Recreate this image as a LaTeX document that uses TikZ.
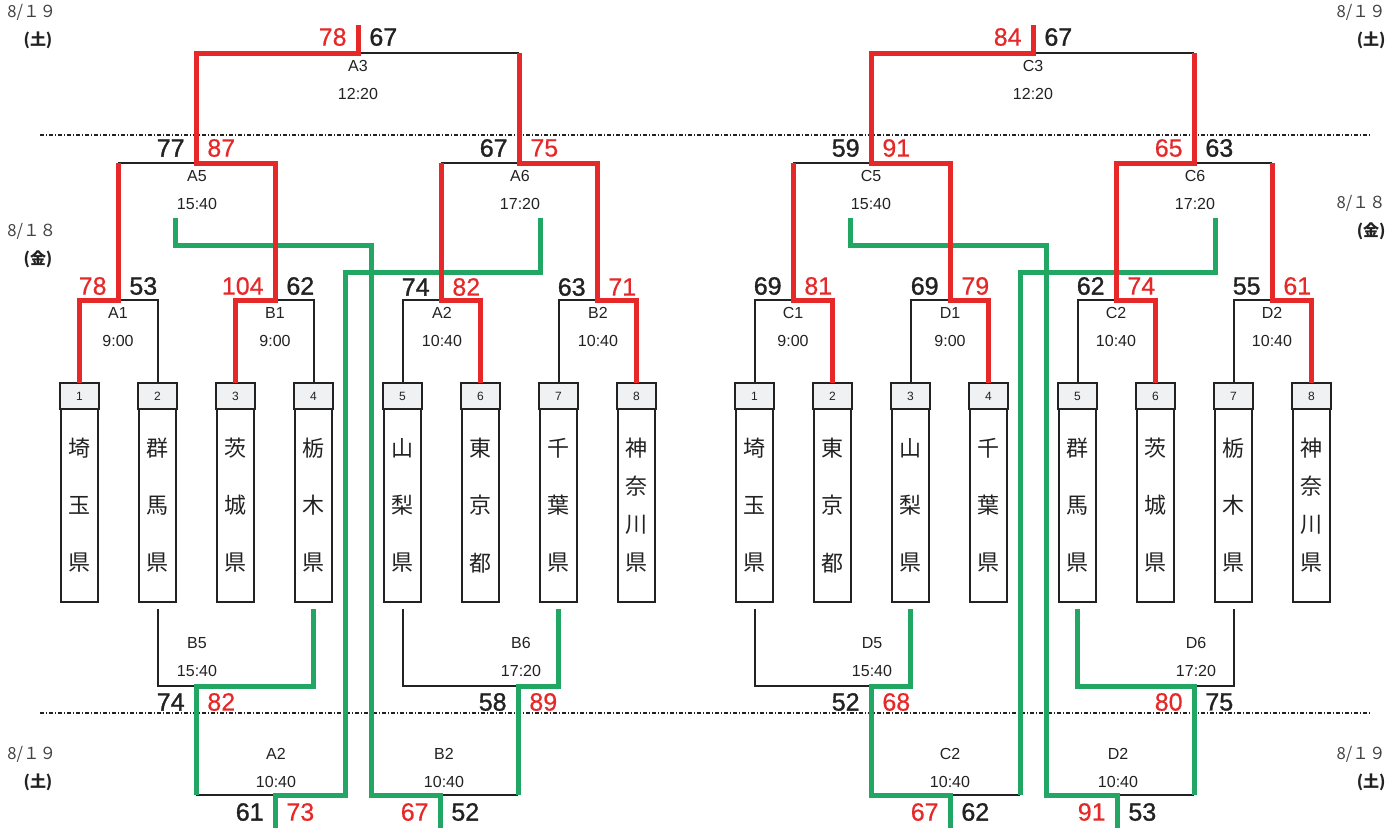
\documentclass[tikz,border=0pt]{standalone}
\usepackage{fontspec}
\setmainfont{Liberation Sans}
\newfontfamily\jp{Noto Sans CJK JP}
\newfontfamily\numB[FakeBold=1.2]{Liberation Sans}
\newfontfamily\numR[FakeBold=0.4]{Liberation Sans}
\definecolor{cRed}{HTML}{E62828}
\definecolor{cGrn}{HTML}{21A664}
\definecolor{cBlk}{HTML}{222222}
\definecolor{cCell}{HTML}{F0F1F3}
\definecolor{cGray}{HTML}{444444}
\newcommand\teamA[6]{%
  \node[tbox] (#1) at (#2,493) {};
  \draw[cellst] (#1.north west) rectangle ([yshift=-13pt]#1.north east);
  \node[numst] (#1n) at (#2,396) {#3};
  \node[kj] (#1a) at (#2,448) {#4};
  \node[kj] (#1b) at (#2,505.5) {#5};
  \node[kj] (#1c) at (#2,563) {#6};}
\newcommand\teamB[7]{%
  \node[tbox] (#1) at (#2,493) {};
  \draw[cellst] (#1.north west) rectangle ([yshift=-13pt]#1.north east);
  \node[numst] (#1n) at (#2,396) {#3};
  \node[kj] (#1a) at (#2,448) {#4};
  \node[kj] (#1b) at (#2,486.3) {#5};
  \node[kj] (#1c) at (#2,524.7) {#6};
  \node[kj] (#1d) at (#2,563) {#7};}
\newcommand\scores[7]{%
  \node[#4,anchor=east] (#1l) at (#2-11,#3) {#5};
  \node[#6,anchor=west] (#1r) at (#2+11,#3) {#7};}
\newcommand\mlab[5]{%
  \node[ml] (#1) at (#2,#3) {#4};
  \node[ml] (#1t) at (#2,#3+28) {#5};}
\begin{document}
\begin{tikzpicture}[x=0.5pt,y=-0.5pt,
  tbox/.style={draw=cBlk, line width=1pt, fill=white, rectangle, inner sep=0pt,
    minimum width=18.5pt, minimum height=109pt},
  cellst/.style={draw=cBlk, line width=1pt, fill=cCell},
  numst/.style={inner sep=0pt, font=\fontsize{6}{7}\selectfont, text=cBlk},
  kj/.style={inner sep=0pt, font=\jp\fontsize{11}{12}\selectfont, text=cBlk},
  thin/.style={draw=cBlk, line width=1pt},
  win/.style={draw=cRed, line width=2.5pt},
  cons/.style={draw=cGrn, line width=2.5pt},
  sr/.style={inner sep=0pt, font=\numR\fontsize{12.5}{14}\selectfont, text=cRed},
  sb/.style={inner sep=0pt, font=\numB\fontsize{12.5}{14}\selectfont, text=cBlk},
  ml/.style={inner sep=0pt, font=\fontsize{8}{9}\selectfont, text=cBlk},
  dt/.style={inner sep=0pt, font=\jp\fontsize{8.3}{9}\selectfont, text=cGray},
  dd/.style={inner sep=0pt, font=\jp\bfseries\fontsize{8}{9}\selectfont, text=cBlk},
  sep/.style={draw=cBlk, line width=0.7pt, dash pattern=on 2pt off 1pt on 0.5pt off 1pt}
]
\useasboundingbox[fill=white] (0,0) rectangle (1399,827);

% ---------- coordinates ----------
\coordinate (bot) at (0,829);
\coordinate (A3) at (358,53); \coordinate (A3top) at (358,25);
\coordinate (A5) at (196,163); \coordinate (A6) at (519,163);
\coordinate (A1) at (118,300); \coordinate (B1) at (275,300);
\coordinate (A2) at (441,300); \coordinate (B2) at (597,300);
\coordinate (B5) at (196,686); \coordinate (B6) at (518,686);
\coordinate (A2b) at (275,795); \coordinate (B2b) at (440,795);
\coordinate (g1a) at (175,218); \coordinate (g1b) at (371,245);
\coordinate (g2a) at (540,218); \coordinate (g2b) at (345,272);
\coordinate (C3) at (1033,53); \coordinate (C3top) at (1033,25);
\coordinate (C5) at (871,163); \coordinate (C6) at (1194,163);
\coordinate (C1) at (793,300); \coordinate (D1) at (950,300);
\coordinate (C2) at (1116,300); \coordinate (D2) at (1272,300);
\coordinate (D5) at (871,686); \coordinate (D6) at (1194,686);
\coordinate (C2b) at (950,795); \coordinate (D2b) at (1117,795);
\coordinate (h1a) at (850,218); \coordinate (h1b) at (1046,245);
\coordinate (h2a) at (1215,218); \coordinate (h2b) at (1020,272);

% ---------- separators ----------
\coordinate (s1a) at (40,135); \coordinate (s1b) at (1372,135);
\coordinate (s2a) at (40,713); \coordinate (s2b) at (1372,713);
\draw[sep] (s1a) -- (s1b);
\draw[sep] (s2a) -- (s2b);

% ---------- teams ----------
\teamA{t1}{79.5}{1}{埼}{玉}{県}
\teamA{t2}{157.5}{2}{群}{馬}{県}
\teamA{t3}{235.5}{3}{茨}{城}{県}
\teamA{t4}{313.5}{4}{栃}{木}{県}
\teamA{t5}{402.5}{5}{山}{梨}{県}
\teamA{t6}{480.5}{6}{東}{京}{都}
\teamA{t7}{558.5}{7}{千}{葉}{県}
\teamB{t8}{636.5}{8}{神}{奈}{川}{県}
\teamA{u1}{754.5}{1}{埼}{玉}{県}
\teamA{u2}{832.5}{2}{東}{京}{都}
\teamA{u3}{910.5}{3}{山}{梨}{県}
\teamA{u4}{988.5}{4}{千}{葉}{県}
\teamA{u5}{1077.5}{5}{群}{馬}{県}
\teamA{u6}{1155.5}{6}{茨}{城}{県}
\teamA{u7}{1233.5}{7}{栃}{木}{県}
\teamB{u8}{1311.5}{8}{神}{奈}{川}{県}

% ---------- black lines (left) ----------
\draw[thin] (A3) -- (A6 |- A3);
\draw[thin] (A1 |- A5) -- (A5);
\draw[thin] (A2 |- A6) -- (A6);
\draw[thin] (A1) -| (t2.north);
\draw[thin] (B1) -| (t4.north);
\draw[thin] (A2) -| (t5.north);
\draw[thin] (B2) -| (t7.north);
\draw[thin] ([yshift=-3pt]t2.south) |- (B5);
\draw[thin] ([yshift=-3pt]t5.south) |- (B6);
\draw[thin] (B5 |- A2b) -- (A2b);
\draw[thin] (B2b) -- (B6 |- B2b);
% ---------- black lines (right) ----------
\draw[thin] (C3) -- (C6 |- C3);
\draw[thin] (C1 |- C5) -- (C5);
\draw[thin] (C6) -- (D2 |- C6);
\draw[thin] (C1) -| (u1.north);
\draw[thin] (D1) -| (u3.north);
\draw[thin] (C2) -| (u5.north);
\draw[thin] (D2) -| (u7.north);
\draw[thin] ([yshift=-3pt]u1.south) |- (D5);
\draw[thin] ([yshift=-3pt]u7.south) |- (D6);
\draw[thin] (h2b |- C2b) -- (C2b);
\draw[thin] (D2b) -- (D6 |- D2b);

% ---------- green (consolation) ----------
\draw[cons] (g1a) |- (g1b) -- (g1b |- B2b) -- (B2b) -- (B2b |- bot);
\draw[cons] (g2a) |- (g2b) -- (g2b |- A2b) -- (A2b) -- (A2b |- bot);
\draw[cons] ([yshift=-3pt]t4.south) |- (B5) -- (B5 |- A2b);
\draw[cons] ([yshift=-3pt]t7.south) |- (B6) -- (B6 |- B2b);
\draw[cons] (h1a) |- (h1b) -- (h1b |- D2b) -- (D2b) -- (D2b |- bot);
\draw[cons] (h2a) |- (h2b) -- (h2b |- C2b);
\draw[cons] ([yshift=-3pt]u3.south) |- (D5) -- (D5 |- C2b) -- (C2b) -- (C2b |- bot);
\draw[cons] ([yshift=-3pt]u5.south) |- (D6) -- (D6 |- D2b);

% ---------- red (winners) ----------
\draw[win] (A3top) -- (A3) -| (A5) -| (B1) -| (t3.north);
\draw[win] (A6 |- A3) -- (A6) -| (B2) -| (t8.north);
\draw[win] (A1 |- A5) -- (A1) -| (t1.north);
\draw[win] (A2 |- A6) -- (A2) -| (t6.north);
\draw[win] (C3top) -- (C3) -| (C5) -| (D1) -| (u4.north);
\draw[win] (C6 |- C3) -- (C6) -| (C2) -| (u6.north);
\draw[win] (C1 |- C5) -- (C1) -| (u2.north);
\draw[win] (D2 |- C6) -- (D2) -| (u8.north);

% ---------- scores ----------
\scores{sA3}{358}{37}{sr}{78}{sb}{67}
\scores{sA5}{196}{148}{sb}{77}{sr}{87}
\scores{sA6}{519}{148}{sb}{67}{sr}{75}
\scores{sA1}{118}{286}{sr}{78}{sb}{53}
\scores{sB1}{275}{286}{sr}{104}{sb}{62}
\scores{sA2}{441}{287}{sb}{74}{sr}{82}
\scores{sB2}{597}{287}{sb}{63}{sr}{71}
\scores{sB5}{196}{702}{sb}{74}{sr}{82}
\scores{sB6}{518}{702}{sb}{58}{sr}{89}
\scores{sA2b}{275}{812}{sb}{61}{sr}{73}
\scores{sB2b}{440}{812}{sr}{67}{sb}{52}
\scores{sC3}{1033}{37}{sr}{84}{sb}{67}
\scores{sC5}{871}{148}{sb}{59}{sr}{91}
\scores{sC6}{1194}{148}{sr}{65}{sb}{63}
\scores{sC1}{793}{286}{sb}{69}{sr}{81}
\scores{sD1}{950}{286}{sb}{69}{sr}{79}
\scores{sC2}{1116}{286}{sb}{62}{sr}{74}
\scores{sD2}{1272}{286}{sb}{55}{sr}{61}
\scores{sD5}{871}{702}{sb}{52}{sr}{68}
\scores{sD6}{1194}{702}{sr}{80}{sb}{75}
\scores{sC2b}{950}{812}{sr}{67}{sb}{62}
\scores{sD2b}{1117}{812}{sr}{91}{sb}{53}

% ---------- match labels ----------
\mlab{lA3}{358}{66}{A3}{12:20}
\mlab{lA5}{197}{176}{A5}{15:40}
\mlab{lA6}{520}{176}{A6}{17:20}
\mlab{lA1}{118}{313}{A1}{9:00}
\mlab{lB1}{275}{313}{B1}{9:00}
\mlab{lA2}{442}{313}{A2}{10:40}
\mlab{lB2}{598}{313}{B2}{10:40}
\mlab{lB5}{197}{643}{B5}{15:40}
\mlab{lB6}{521}{643}{B6}{17:20}
\mlab{lA2b}{276}{754}{A2}{10:40}
\mlab{lB2b}{444}{754}{B2}{10:40}
\mlab{lC3}{1033}{66}{C3}{12:20}
\mlab{lC5}{871}{176}{C5}{15:40}
\mlab{lC6}{1195}{176}{C6}{17:20}
\mlab{lC1}{793}{313}{C1}{9:00}
\mlab{lD1}{950}{313}{D1}{9:00}
\mlab{lC2}{1116}{313}{C2}{10:40}
\mlab{lD2}{1272}{313}{D2}{10:40}
\mlab{lD5}{872}{643}{D5}{15:40}
\mlab{lD6}{1196}{643}{D6}{17:20}
\mlab{lC2b}{950}{754}{C2}{10:40}
\mlab{lD2b}{1118}{754}{D2}{10:40}

% ---------- dates ----------
\node[dt,anchor=west] (dl1) at (7,12) {8/１９};
\node[dd] (wl1) at (38,40) {(土)};
\node[dt,anchor=west] (dl2) at (7,231) {8/１８};
\node[dd] (wl2) at (38,259) {(金)};
\node[dt,anchor=west] (dl3) at (7,754) {8/１９};
\node[dd] (wl3) at (38,782) {(土)};
\node[dt,anchor=east] (dr1) at (1386,12) {8/１９};
\node[dd,anchor=east] (wr1) at (1386,40) {(土)};
\node[dt,anchor=east] (dr2) at (1386,203) {8/１８};
\node[dd,anchor=east] (wr2) at (1386,231) {(金)};
\node[dt,anchor=east] (dr3) at (1386,754) {8/１９};
\node[dd,anchor=east] (wr3) at (1386,782) {(土)};
\end{tikzpicture}
\end{document}
